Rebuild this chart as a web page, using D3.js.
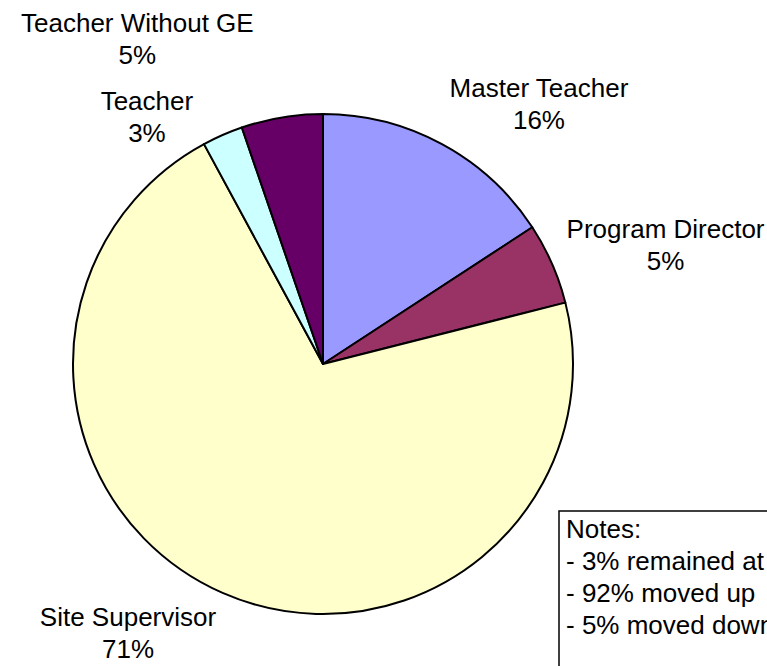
<!DOCTYPE html>
<html lang="en">
<head>
<meta charset="utf-8">
<title>Position change pie</title>
<script src="https://cdn.jsdelivr.net/npm/d3@7"></script>
<style>
  body { margin: 0; background: #fff; }
  text { font-family: "Liberation Sans", Arial, sans-serif; font-size: 26px; fill: #000; }
</style>
</head>
<body>
<script>
// slice data (counts, clockwise from 12 o'clock)
var categories = ["Master Teacher", "Program Director", "Site Supervisor", "Teacher", "Teacher Without GE"];
var counts = [6, 2, 27, 1, 2];
var colors = ["#9999FF", "#993366", "#FFFFCC", "#CCFFFF", "#660066"];
var notes = ["Notes:", "- 3% remained at", "- 92% moved up", "- 5% moved down"];

// label nudges (Excel moved the two crowded labels apart)
var nudges = [[0, 0], [0, 0], [0, 0], [-23, 24], [-94, -33]];

var w = 767, h = 666;
var cx = 323, cy = 364, r = 250;

var svg = d3.select("body").append("svg")
    .attr("width", w)
    .attr("height", h);

var total = d3.sum(counts);
var data = counts.map(function(c, i) { return { name: categories[i], value: c, color: colors[i] }; });

var pie = d3.pie().sort(null).value(function(d) { return d.value; });
var arc = d3.arc().innerRadius(0).outerRadius(r);
var arcs = pie(data);

var g = svg.append("g").attr("transform", "translate(" + cx + "," + cy + ")");

g.selectAll("path")
    .data(arcs)
    .enter()
    .append("path")
    .attr("d", arc)
    .attr("fill", function(d) { return d.data.color; })
    .attr("stroke", "#000")
    .attr("stroke-width", 2)
    .attr("stroke-linejoin", "round");

// labels: anchor just outside the rim, block pushed outward
var labelR = r + 16;
arcs.forEach(function(d, i) {
  var mid = (d.startAngle + d.endAngle) / 2;
  var s = Math.sin(mid), c = Math.cos(mid);
  var ax = labelR * s, ay = -labelR * c;
  var lbl = g.append("text").attr("text-anchor", "middle");
  var t1 = lbl.append("tspan").text(d.data.name);
  var bw = t1.node().getComputedTextLength();
  var kx = Math.max(-1, Math.min(1, s * 2.5));
  var bx = ax + kx * bw / 2 + nudges[i][0];
  var by = ay - c * 29 + nudges[i][1];
  t1.attr("x", bx).attr("y", by - 8);
  lbl.append("tspan")
      .attr("x", bx)
      .attr("y", by + 24)
      .text(Math.round(d.data.value / total * 100) + "%");
});

// notes box (runs off the right/bottom edge as in the original)
svg.append("rect")
    .attr("x", 559)
    .attr("y", 511)
    .attr("width", 400)
    .attr("height", 300)
    .attr("fill", "#fff")
    .attr("stroke", "#000")
    .attr("stroke-width", 1.5);

svg.selectAll("text.note")
    .data(notes)
    .enter()
    .append("text")
    .attr("class", "note")
    .attr("x", 566)
    .attr("y", function(d, i) { return 538 + i * 32; })
    .text(function(d) { return d; });
</script>
</body>
</html>
